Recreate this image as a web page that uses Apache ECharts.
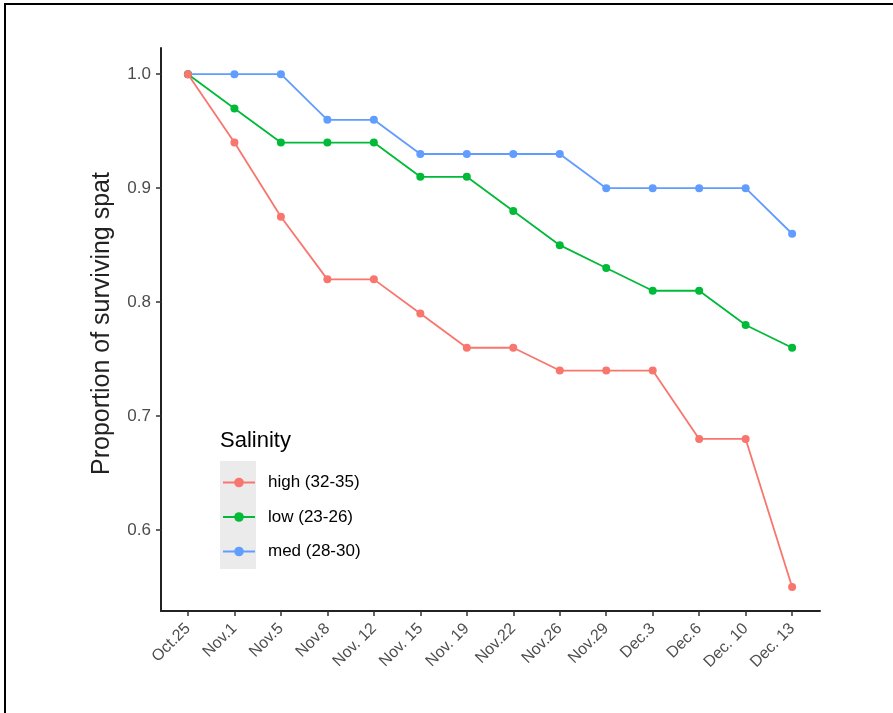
<!DOCTYPE html>
<html>
<head>
<meta charset="utf-8">
<script src="https://cdn.jsdelivr.net/npm/echarts@6/dist/echarts.min.js"></script>
<style>
  html, body { margin: 0; padding: 0; background: #fff; }
  #chart { width: 893px; height: 713px; }
</style>
</head>
<body>
<div id="chart"></div>
<script>
const dates = ['Oct.25', 'Nov.1', 'Nov.5', 'Nov.8', 'Nov. 12', 'Nov. 15', 'Nov. 19', 'Nov.22',
  'Nov.26', 'Nov.29', 'Dec.3', 'Dec.6', 'Dec. 10', 'Dec. 13'];
const high = [1.0, 0.94, 0.875, 0.82, 0.82, 0.79, 0.76, 0.76, 0.74, 0.74, 0.74, 0.68, 0.68, 0.55];
const low = [1.0, 0.97, 0.94, 0.94, 0.94, 0.91, 0.91, 0.88, 0.85, 0.83, 0.81, 0.81, 0.78, 0.76];
const med = [1.0, 1.0, 1.0, 0.96, 0.96, 0.93, 0.93, 0.93, 0.93, 0.90, 0.90, 0.90, 0.90, 0.86];
const yTicks = [0.6, 0.7, 0.8, 0.9, 1.0];

const names = ['high (32-35)', 'low (23-26)', 'med (28-30)'];
const colors = { high: '#F8766D', low: '#00BA38', med: '#619CFF' };
const font = 'Arial, "Liberation Sans", sans-serif';

const toPairs = arr => arr.map((v, i) => [i, v]);
const idx = dates.map((d, i) => i);

const myChart = echarts.init(document.getElementById('chart'));

function lineSeries(name, data, color, z) {
  return {
    name: name,
    type: 'line',
    data: toPairs(data),
    z: z,
    symbol: 'circle',
    symbolSize: 8,
    lineStyle: { color: color, width: 1.8 },
    itemStyle: { color: color },
    emphasis: { disabled: true }
  };
}

const option = {
  backgroundColor: '#fff',
  animation: false,
  grid: { left: 161, right: 73, top: 48, bottom: 102 },
  graphic: [
    {
      type: 'rect',
      shape: { x: 5, y: 4, width: 1200, height: 1200 },
      style: { fill: 'none', stroke: '#000', lineWidth: 2 },
      silent: true
    },
    {
      type: 'rect',
      shape: { x: 220, y: 461, width: 36, height: 108 },
      style: { fill: '#ebebeb' },
      silent: true,
      z: -1
    },
    {
      type: 'text',
      left: 220,
      top: 430,
      style: { text: 'Salinity', font: '22px ' + font, fill: '#000' }
    }
  ],
  legend: {
    data: names,
    orient: 'vertical',
    left: 222,
    top: 474,
    padding: 0,
    itemWidth: 32,
    itemHeight: 12,
    itemGap: 17.5,
    textStyle: {
      fontFamily: font,
      fontSize: 17,
      lineHeight: 17,
      color: '#000',
      padding: [0, 0, 0, 8]
    }
  },
  xAxis: {
    type: 'value',
    min: -0.58,
    max: 13.6,
    splitLine: { show: false },
    axisLine: { onZero: false, lineStyle: { color: '#222', width: 2 } },
    axisTick: { customValues: idx, length: 5, lineStyle: { color: '#333', width: 1.5 } },
    axisLabel: {
      customValues: idx,
      formatter: v => dates[Math.round(v)],
      rotate: 45,
      margin: 15,
      color: '#4d4d4d',
      fontSize: 16,
      fontFamily: font
    }
  },
  yAxis: {
    type: 'value',
    min: 0.529,
    max: 1.023,
    name: 'Proportion of surviving spat',
    nameLocation: 'middle',
    nameGap: 46,
    nameMoveOverlap: false,
    nameTextStyle: {
      fontSize: 25,
      color: '#222',
      fontFamily: font,
      padding: [0, 0, 0, 12]
    },
    splitLine: { show: false },
    axisLine: { show: true, onZero: false, lineStyle: { color: '#222', width: 2 } },
    axisTick: { show: true, customValues: yTicks, length: 5, lineStyle: { color: '#333', width: 1.5 } },
    axisLabel: {
      customValues: yTicks,
      formatter: v => v.toFixed(1),
      margin: 10,
      color: '#4d4d4d',
      fontSize: 17,
      fontFamily: font
    }
  },
  series: [
    lineSeries(names[2], med, colors.med, 2),
    lineSeries(names[1], low, colors.low, 3),
    lineSeries(names[0], high, colors.high, 4)
  ]
};

myChart.setOption(option);
</script>
</body>
</html>
